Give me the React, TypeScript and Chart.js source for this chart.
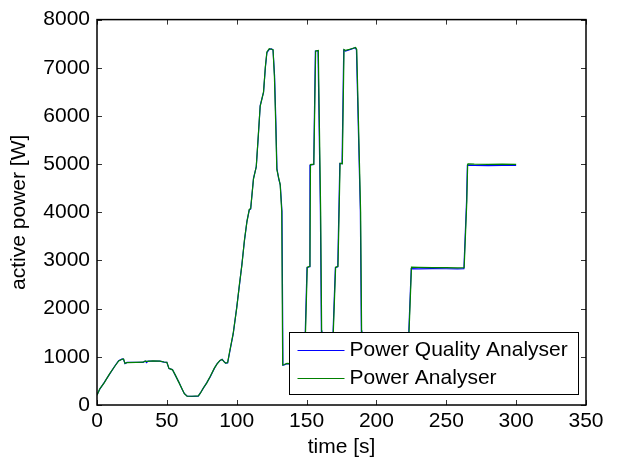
import React, { useEffect, useRef } from "react";
import { Chart, registerables } from "chart.js";

Chart.register(...registerables);

// Power Quality Analyser (blue)
const timeQ = [0, 2, 5, 9, 13, 15.5, 18, 19, 20, 21.5, 28, 33, 34.5, 35.5, 36.5, 40, 45, 48, 50, 51.5, 54, 56, 58.5, 61, 62.5, 64.5, 68, 72.5, 74, 76, 78.5, 81, 84, 86, 88, 89.5, 91, 92, 93.5, 95, 97.5, 100, 102, 103.7, 105.5, 107.3, 109, 110, 112, 114, 115.5, 116.8, 119.2, 120.5, 121.6, 123.3, 125, 126, 127.1, 128, 128.8, 130, 131.2, 132.4, 133.1, 134, 136, 140, 144, 148, 149.1, 150.3, 152.2, 152.4, 155.1, 156.3, 158.2, 159.9, 160.6, 161, 165, 168.5, 169, 170.6, 172.3, 173.8, 175.4, 176.6, 177.8, 181.4, 184.9, 185.7, 188.5, 189.2, 189.6, 200, 210, 222.5, 223.2, 224.9, 230, 240, 250, 258, 262.6, 264.5, 265.1, 265.5, 270, 280, 290, 300];
const powerQ = [210, 330, 460, 640, 820, 920, 955, 950, 860, 885, 885, 885, 912, 880, 912, 912, 912, 890, 886, 756, 735, 620, 480, 320, 240, 185, 180, 185, 250, 344, 460, 583, 760, 860, 920, 948, 900, 871, 875, 1100, 1477, 2025, 2500, 2919, 3400, 3811, 4050, 4070, 4703, 4944, 5600, 6215, 6489, 7000, 7313, 7381, 7390, 7368, 6833, 5900, 4909, 4700, 4567, 4017, 824, 830, 859, 850, 855, 860, 1545, 2849, 2870, 4979, 4992, 7348, 7348, 4017, 1545, 860, 850, 860, 1545, 2849, 2870, 5012, 5012, 7368, 7348, 7381, 7416, 7368, 4017, 1545, 860, 850, 850, 860, 1545, 2830, 2825, 2830, 2828, 2826, 2828, 4223, 4975, 4978, 4972, 4970, 4975, 4973];

// Power Analyser (green)
const timeP = [0, 2, 5, 9, 13, 15.5, 18, 19, 20, 21.5, 28, 33, 34.5, 36, 40, 45, 48, 50, 51.5, 54, 56, 58.5, 61, 62.5, 64.5, 68, 72.5, 74, 76, 78.5, 81, 84, 86, 88, 89.5, 91, 92, 93.5, 95, 97.5, 100, 102, 103.7, 105.5, 107.3, 109, 110, 112, 114, 115.5, 116.8, 119.2, 120.5, 121.6, 123.3, 125, 126, 127, 127.9, 128.7, 130, 131.1, 132.2, 132.9, 134, 136, 140, 144, 148.2, 149.3, 150.5, 152.4, 152.8, 155.2, 156.5, 158.4, 160.1, 160.8, 161.2, 165, 168.7, 169.2, 170.8, 172.5, 174, 175.6, 176.8, 178, 181.6, 185.1, 185.9, 188.7, 189.4, 189.8, 200, 210, 222.7, 223.4, 225.1, 230, 240, 250, 258, 262.8, 264.7, 265.3, 265.7, 270, 280, 290, 300];
const powerP = [200, 335, 455, 645, 815, 915, 950, 955, 865, 880, 885, 888, 910, 905, 915, 910, 892, 884, 760, 730, 625, 475, 325, 235, 182, 182, 188, 245, 348, 455, 590, 765, 855, 925, 945, 895, 868, 880, 1120, 1490, 2010, 2520, 2900, 3420, 3800, 4060, 4080, 4690, 4950, 5620, 6200, 6500, 7020, 7330, 7395, 7385, 7375, 6800, 5850, 4890, 4720, 4580, 4030, 830, 840, 862, 852, 858, 865, 1560, 2860, 2880, 4990, 5000, 7350, 7360, 4000, 1530, 862, 852, 858, 1560, 2860, 2880, 5020, 5010, 7380, 7360, 7390, 7420, 7380, 4000, 1530, 862, 855, 852, 862, 1560, 2860, 2855, 2850, 2852, 2848, 2850, 4230, 5000, 5005, 4998, 4995, 5000, 4996];

const xTicks = [0, 50, 100, 150, 200, 250, 300, 350];
const yTicks = [0, 1000, 2000, 3000, 4000, 5000, 6000, 7000, 8000];
const seriesNames = ["Power Quality Analyser", "Power Analyser"];
const seriesColors = ["#0000ff", "#008000"];

const FONT = "'Liberation Sans', Arial, sans-serif";

const zip = (xs: number[], ys: number[]) => xs.map((x, i) => ({ x, y: ys[i] }));

const boxPlugin = {
  id: "matlabBox",
  afterDatasetsDraw(chart: any) {
    const { ctx, chartArea } = chart;
    const xs = chart.scales.x;
    const ys = chart.scales.y;
    ctx.save();
    // inner ticks
    ctx.strokeStyle = "#333";
    ctx.lineWidth = 1;
    const L = 5;
    xTicks.forEach((v) => {
      const px = Math.round(xs.getPixelForValue(v)) + 0.5;
      ctx.beginPath();
      ctx.moveTo(px, chartArea.bottom);
      ctx.lineTo(px, chartArea.bottom - L);
      ctx.moveTo(px, chartArea.top);
      ctx.lineTo(px, chartArea.top + L);
      ctx.stroke();
    });
    yTicks.forEach((v) => {
      const py = Math.round(ys.getPixelForValue(v)) + 0.5;
      ctx.beginPath();
      ctx.moveTo(chartArea.left, py);
      ctx.lineTo(chartArea.left + L, py);
      ctx.moveTo(chartArea.right, py);
      ctx.lineTo(chartArea.right - L, py);
      ctx.stroke();
    });
    // legend
    const lw = 289;
    const lh = 62;
    const lx = Math.round(chartArea.right - 8.5 - lw) + 0.5;
    const ly = Math.round(chartArea.bottom - 11.5 - lh) + 0.5;
    ctx.fillStyle = "#ffffff";
    ctx.fillRect(lx, ly, lw, lh);
    ctx.strokeStyle = "#000";
    ctx.lineWidth = 1;
    ctx.strokeRect(lx, ly, lw, lh);
    ctx.font = `21px ${FONT}`;
    ctx.textBaseline = "middle";
    ctx.textAlign = "left";
    seriesNames.forEach((name, i) => {
      const cy = ly + 17 + i * 28.4;
      ctx.strokeStyle = seriesColors[i];
      ctx.lineWidth = 1;
      ctx.beginPath();
      ctx.moveTo(lx + 8, Math.round(cy) + 0.5);
      ctx.lineTo(lx + 55, Math.round(cy) + 0.5);
      ctx.stroke();
      ctx.fillStyle = "#000";
      ctx.fillText(name, lx + 60, cy + 0.5);
    });
    // frame
    ctx.strokeStyle = "#000";
    ctx.lineWidth = 1.5;
    ctx.strokeRect(chartArea.left, chartArea.top, chartArea.right - chartArea.left, chartArea.bottom - chartArea.top);
    ctx.restore();
  },
};

export default function App() {
  const ref = useRef<HTMLCanvasElement | null>(null);
  useEffect(() => {
    if (!ref.current) return;
    const chart = new Chart(ref.current, {
      type: "line",
      data: {
        datasets: [
          {
            label: seriesNames[0],
            data: zip(timeQ, powerQ),
            borderColor: seriesColors[0],
            borderWidth: 1.2,
            pointRadius: 0,
            tension: 0,
            fill: false,
            order: 2,
          },
          {
            label: seriesNames[1],
            data: zip(timeP, powerP),
            borderColor: seriesColors[1],
            borderWidth: 1.2,
            pointRadius: 0,
            tension: 0,
            fill: false,
            order: 1,
          },
        ],
      },
      options: {
        responsive: false,
        devicePixelRatio: 1,
        animation: false,
        parsing: false,
        layout: { padding: { left: 0, right: 32, top: 17, bottom: 0 } },
        plugins: { legend: { display: false }, tooltip: { enabled: false } },
        scales: {
          x: {
            type: "linear",
            min: 0,
            max: 350,
            afterBuildTicks: (s: any) => {
              s.ticks = xTicks.map((v) => ({ value: v }));
            },
            afterFit: (s: any) => {
              s.height = 53;
            },
            ticks: {
              color: "#000",
              font: { size: 21, family: FONT },
              padding: 4,
              maxRotation: 0,
              callback: (v: any) => String(v),
            },
            grid: { display: false, drawTicks: false },
            border: { display: false },
            title: {
              display: true,
              text: "time [s]",
              color: "#000",
              font: { size: 21, family: FONT, lineHeight: 1 },
              padding: { top: 0, bottom: 0 },
            },
          },
          y: {
            type: "linear",
            min: 0,
            max: 8000,
            afterBuildTicks: (s: any) => {
              s.ticks = yTicks.map((v) => ({ value: v }));
            },
            afterFit: (s: any) => {
              s.width = 97;
            },
            ticks: {
              color: "#000",
              font: { size: 21, family: FONT },
              padding: 7,
              callback: (v: any) => String(v),
            },
            grid: { display: false, drawTicks: false },
            border: { display: false },
            title: {
              display: true,
              text: "active power [W]",
              color: "#000",
              font: { size: 21, family: FONT, lineHeight: 1.2 },
              padding: { top: 7, bottom: 0 },
            },
          },
        },
      },
      plugins: [boxPlugin],
    });
    return () => chart.destroy();
  }, []);
  return (
    <div style={{ position: "absolute", left: 0, top: 0, width: 618, height: 458, background: "#fff" }}>
      <canvas ref={ref} width={618} height={458} />
    </div>
  );
}
